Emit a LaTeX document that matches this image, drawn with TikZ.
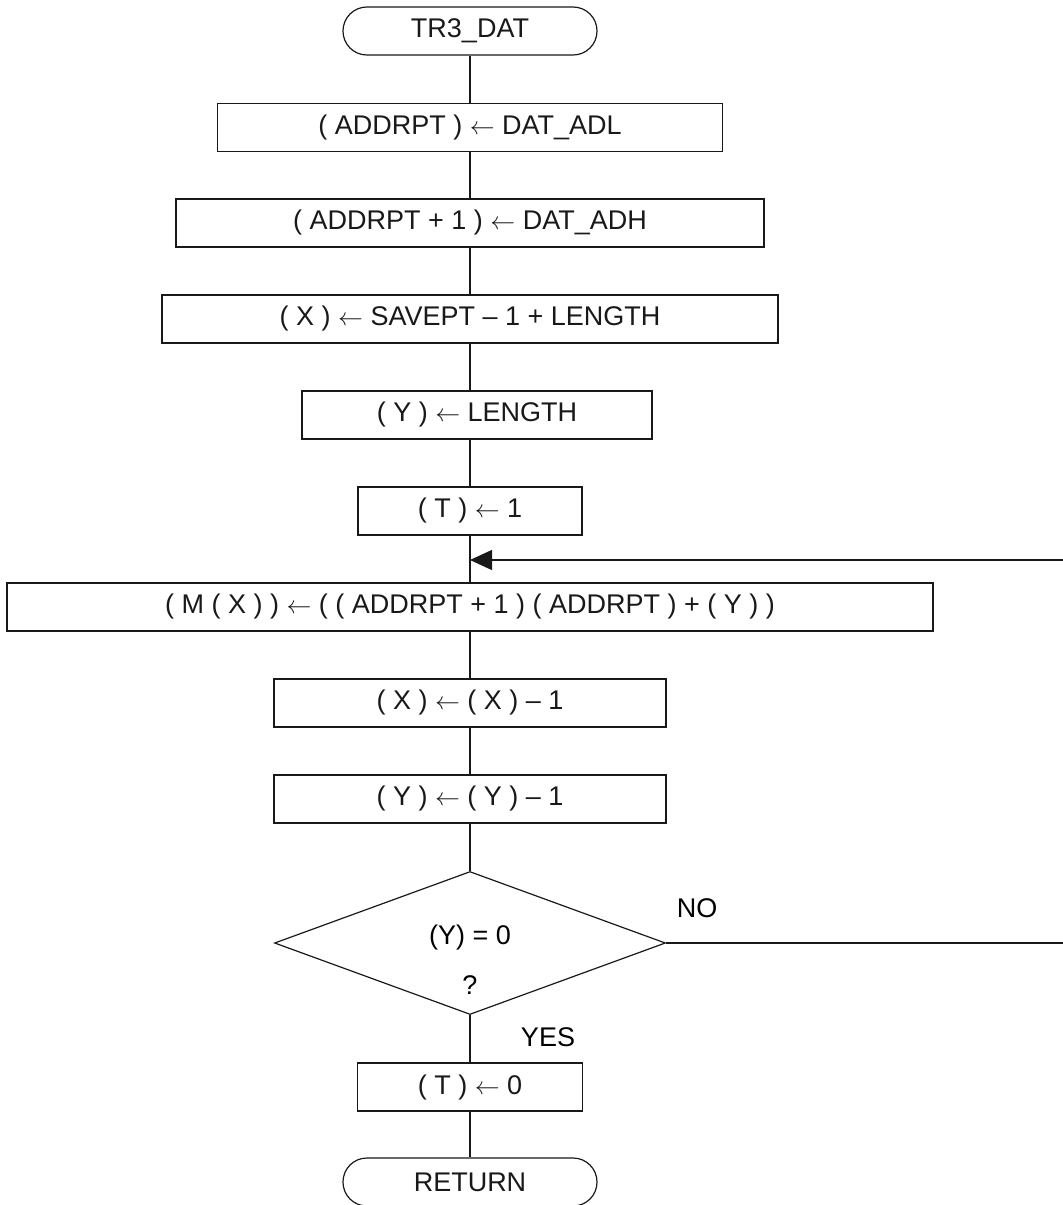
\documentclass[tikz,border=0pt]{standalone}
\usepackage{fontspec}
\setmainfont{Liberation Sans}
\usetikzlibrary{arrows.meta,shapes.geometric}

\begin{document}
\begin{tikzpicture}[x=1pt,y=-1pt,
  every node/.style={font=\fontsize{27}{32}\selectfont, inner sep=0pt},
  flowline/.style={line width=1.2pt, black!90},
  procbox/.style={draw, flowline, rectangle, minimum height=48pt},
  termbox/.style={draw, flowline, rectangle, rounded corners=23.9pt,
                  minimum width=254pt, minimum height=48pt},
  decbox/.style={draw, flowline, diamond, minimum width=391pt, minimum height=143pt},
  tip/.style={-{Triangle[length=22pt,width=20pt]}}
]
\useasboundingbox (0,0) rectangle (1063,1205);
\clip (0,0) rectangle (1063,1205);

% start terminal and the setup steps
\node[termbox] (start) at (470,31) {TR3\_DAT};
\node[procbox, minimum width=505pt] (b1) at (470,127.5) {( ADDRPT ) $\leftarrow$ DAT\_ADL};
\node[procbox, minimum width=588pt] (b2) at (470,223) {( ADDRPT + 1 ) $\leftarrow$ DAT\_ADH};
\node[procbox, minimum width=616pt] (b3) at (470,319) {( X ) $\leftarrow$ SAVEPT -- 1 + LENGTH};
\node[procbox, minimum width=350pt] (b4) at (477,415) {( Y ) $\leftarrow$ LENGTH};
\node[procbox, minimum width=224pt] (b5) at (470,511) {( T ) $\leftarrow$ 1};

% loop entry point on the main line
\coordinate (join) at (470,560);

% loop body
\node[procbox, minimum width=926pt] (b6) at (470,607)
  {( M ( X ) ) $\leftarrow$ ( ( ADDRPT + 1 ) ( ADDRPT ) + ( Y ) )};
\node[procbox, minimum width=392pt] (b7) at (470,703) {( X ) $\leftarrow$ ( X ) -- 1};
\node[procbox, minimum width=392pt] (b8) at (470,799) {( Y ) $\leftarrow$ ( Y ) -- 1};

% loop test
\node[decbox] (dec) at (470,943) {};
\node (dect) at (470,937) {(Y) = 0};
\node (decq) at (470,985) {?};
\node (no) at (697,908) {NO};
\node (yes) at (548,1037) {YES};

% exit
\node[procbox, minimum width=225pt] (b9) at (470,1087) {( T ) $\leftarrow$ 0};
\node[termbox] (ret) at (470,1182) {RETURN};

% return path of the loop (runs past the right edge)
\coordinate (loopc) at (1090,943);

% connectors
\draw[flowline] (start) -- (b1);
\draw[flowline] (b1) -- (b2);
\draw[flowline] (b2) -- (b3);
\draw[flowline] (b3.south -| join) -- (b4.north -| join);
\draw[flowline] (b4.south -| join) -- (b5);
\draw[flowline] (b5) -- (b6);
\draw[flowline] (b6) -- (b7);
\draw[flowline] (b7) -- (b8);
\draw[flowline] (b8) -- (dec);
\draw[flowline] (dec) -- (b9);
\draw[flowline] (b9) -- (ret);
\draw[flowline, tip] (dec.east) -- (loopc) |- (join);
\end{tikzpicture}
\end{document}
